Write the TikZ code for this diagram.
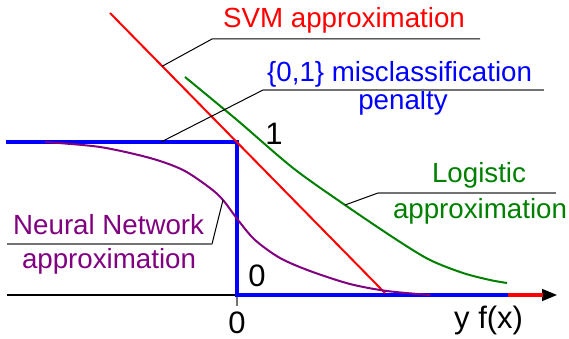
\documentclass[tikz,border=0pt]{standalone}
\usepackage{fontspec}
\setmainfont{Liberation Sans}
\usetikzlibrary{arrows.meta}
\definecolor{svmred}{RGB}{255,0,0}
\definecolor{stepblue}{RGB}{0,0,255}
\definecolor{logigreen}{RGB}{0,128,0}
\definecolor{nnpurple}{RGB}{128,0,128}
\tikzstyle{lbl} = [inner sep=0pt, font=\fontsize{27.7}{30}\selectfont]
\tikzstyle{axlbl} = [inner sep=0pt, font=\fontsize{31}{34}\selectfont]
\tikzstyle{leader} = [draw=black, line width=1pt]
\tikzstyle{underline} = [draw=black!55, line width=1.3pt]

\begin{document}
\begin{tikzpicture}[
x = 1pt, y = -1pt,
axis/.style = {draw, line width=1.6pt, -{Triangle[length=15pt,width=12pt]}},
steploss/.style = {draw=stepblue, line width=4pt},
svmloss/.style = {draw=svmred, line width=2pt},
logiloss/.style = {draw=logigreen, line width=2pt},
nnloss/.style = {draw=nnpurple, line width=2pt}
                        ]
\useasboundingbox (0,0) rectangle (569,339);
\coordinate (axl) at (7,295);
\coordinate (axr) at (557,295);
\coordinate (orig) at (237,295);
\coordinate (tick) at (237,306);
\coordinate (stepl) at (6,142);
\coordinate (corner) at (237,142);
\coordinate (stepr) at (508,295);
\coordinate (redend) at (543,295);
\coordinate (svmtop) at (110,13);
\coordinate (svmbot) at (385,293);

% axis and step
\draw [axis] (axl) -- (axr);
\draw [underline] (orig) -- (tick);
\draw [steploss] (stepl) -- (corner) -- (orig) -- (stepr);
\draw [svmloss, line width=4pt] (stepr) -- (redend);

% approximations
\draw [svmloss] (svmtop) -- (svmbot) coordinate[pos=0.19] (svmhit);
\draw [logiloss] plot[smooth] coordinates {(185,77) (237,120) (293,168)
  (345,205) (397,240) (430,260) (463,273) (490,280) (507,283)};
\draw [nnloss] plot[smooth] coordinates {(45,142) (100,147) (150,158)
  (183,170) (210,188) (223,200) (238,220) (255,240) (280,258) (310,271)
  (350,284) (387,291) (430,295)};

% labels
\node [lbl, text=svmred, anchor=base west] (svm) at (223,28) {SVM approximation};
\node [lbl, text=stepblue, anchor=base west] (miscl) at (267,82) {\{0,1\} misclassification};
\node [lbl, text=stepblue, anchor=base] (penalty) at (403,110) {penalty};
\node [lbl, text=logigreen, anchor=base] (logi) at (479,182) {Logistic};
\node [lbl, text=logigreen, anchor=base] (logiappr) at (480,218) {approximation};
\node [lbl, text=nnpurple, anchor=base west] (nn) at (13,234) {Neural Network};
\node [lbl, text=nnpurple, anchor=base] (nnappr) at (109,268) {approximation};
\node [axlbl, anchor=base] (one) at (274,145) {1};
\node [axlbl, anchor=base] (zeroin) at (257,286) {0};
\node [axlbl, anchor=base] (zerox) at (237,333) {0};
\node [axlbl, anchor=base west] (yfx) at (454,328) {y f(x)};

% leaders
\coordinate (svmA) at (212,39);
\coordinate (svmB) at (480,39);
\coordinate (misA) at (263,90);
\coordinate (misB) at (544,90);
\coordinate (stephit) at (161,142);
\coordinate (logA) at (378,193);
\coordinate (logB) at (556,193);
\coordinate (loghit) at (345,205);
\coordinate (nnA) at (212,244);
\coordinate (nnB) at (7,244);
\coordinate (nnhit) at (223,200);
\draw [leader] (svmhit) -- (svmA) -- (svmB);
\draw [leader] (stephit) -- (misA);
\draw [underline] (misA) -- (misB);
\draw [leader] (loghit) -- (logA);
\draw [underline] (logA) -- (logB);
\draw [leader] (nnhit) -- (nnA);
\draw [underline] (nnA) -- (nnB);
\end{tikzpicture}
\end{document}
